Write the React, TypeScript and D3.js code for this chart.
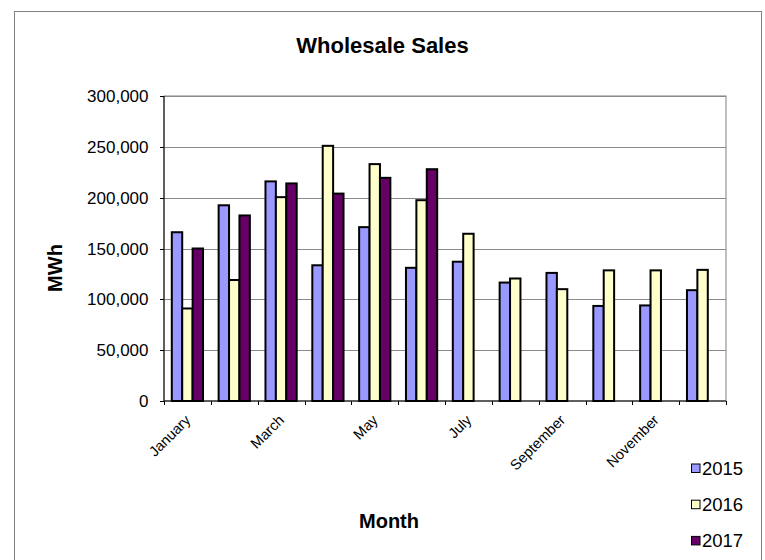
import React from "react";
import * as d3 from "d3";

const months = ["January","February","March","April","May","June","July","August","September","October","November","December"];
const seriesNames = ["2015", "2016", "2017"];
const sales2015 = [166000, 192500, 216000, 133500, 171000, 131000, 137000, 116500, 126000, 93500, 94000, 109000];
const sales2016 = [91000, 119000, 200500, 251000, 233000, 197500, 164500, 120500, 110000, 128500, 128500, 129000];
const sales2017: (number | null)[] = [150000, 182500, 214000, 204000, 219500, 228000, null, null, null, null, null, null];
const seriesColors = ["#9999FF", "#FFFFCC", "#660066"];
const yTicks = [0, 50000, 100000, 150000, 200000, 250000, 300000];

const FONT = "'Liberation Sans', Arial, sans-serif";

export default function App() {
  const left = 164, right = 726, top = 96, bottom = 401;
  const x = d3.scaleBand<string>().domain(months).range([left, right]).padding(0);
  const inner = d3.scaleBand<string>().domain(seriesNames).range([0, x.bandwidth()]).paddingInner(0).paddingOuter(0.75);
  const y = d3.scaleLinear().domain([0, 300000]).range([bottom, top]);
  const fmt = d3.format(",");
  const allSeries = [sales2015, sales2016, sales2017];

  return (
    <svg width={765} height={560} style={{ position: "absolute", left: 0, top: 0, background: "#fff" }} fontFamily={FONT}>
      <rect x={14.5} y={11.5} width={747} height={600} fill="#fff" stroke="#808080" strokeWidth={1} />
      <text x={382.5} y={53} textAnchor="middle" fontSize={22} fontWeight="bold">Wholesale Sales</text>

      {/* plot area border */}
      <rect x={left} y={top} width={right - left} height={bottom - top} fill="none" stroke="#808080" strokeWidth={1} />
      {/* gridlines */}
      {yTicks.filter(t => t > 0).map(t => (
        <line key={t} x1={left} x2={right} y1={Math.round(y(t)) + 0.5} y2={Math.round(y(t)) + 0.5} stroke="#8a8a8a" strokeWidth={1} />
      ))}

      {/* bars */}
      {allSeries.map((vals, si) => (
        <g key={si}>
          {vals.map((v, mi) => v == null ? null : (
            <rect key={mi}
              x={(x(months[mi]) as number) + (inner(seriesNames[si]) as number)}
              y={y(v)}
              width={inner.bandwidth()}
              height={bottom - y(v)}
              fill={seriesColors[si]} stroke="#000" strokeWidth={2} />
          ))}
        </g>
      ))}

      {/* axes */}
      <line x1={left} x2={left} y1={top} y2={bottom} stroke="#000" strokeWidth={1} />
      <line x1={left} x2={right} y1={bottom} y2={bottom} stroke="#000" strokeWidth={1} />
      {yTicks.map(t => (
        <g key={t}>
          <line x1={left - 4} x2={left} y1={Math.round(y(t)) + 0.5} y2={Math.round(y(t)) + 0.5} stroke="#000" />
          <text x={148.5} y={y(t) + 6} textAnchor="end" fontSize={17}>{fmt(t)}</text>
        </g>
      ))}
      {months.map((m) => (
        <line key={m} x1={Math.round(x(m) as number) + 0.5} x2={Math.round(x(m) as number) + 0.5} y1={bottom} y2={bottom + 4} stroke="#000" />
      ))}
      <line x1={right + 0.5} x2={right + 0.5} y1={bottom} y2={bottom + 4} stroke="#000" />
      {months.map((m, i) => i % 2 === 0 ? (
        <text key={m} transform={`translate(${(x(m) as number) + x.bandwidth() / 2 + 4},${421}) rotate(-45)`} textAnchor="end" fontSize={14.5}>{m}</text>
      ) : null)}

      <text transform={`translate(61.5,268) rotate(-90)`} textAnchor="middle" fontSize={20} fontWeight="bold">MWh</text>
      <text x={389} y={528} textAnchor="middle" fontSize={20} fontWeight="bold">Month</text>

      {/* legend */}
      {seriesNames.map((s, i) => (
        <g key={s} transform={`translate(691,${475 + i * 36.2})`}>
          <rect x={0.5} y={-11} width={8.5} height={8.5} fill={seriesColors[i]} stroke="#000" strokeWidth={1} />
          <text x={11} y={0} fontSize={18.5}>{s}</text>
        </g>
      ))}
    </svg>
  );
}
